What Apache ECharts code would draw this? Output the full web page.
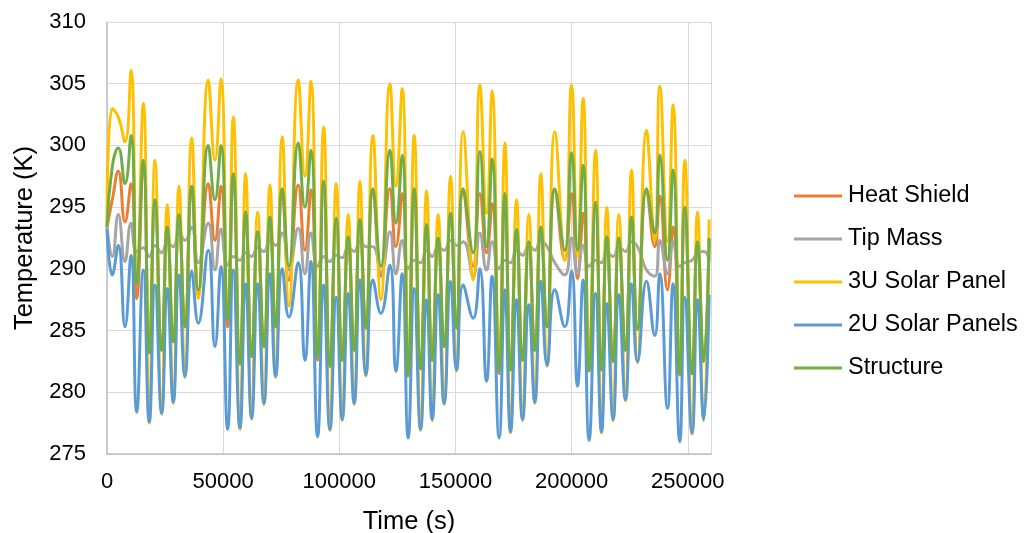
<!DOCTYPE html>
<html>
<head>
<meta charset="utf-8">
<script src="https://cdn.jsdelivr.net/npm/echarts@6/dist/echarts.min.js"></script>
<style>
html,body{margin:0;padding:0;background:#fff;}
#chart{width:1024px;height:533px;}
</style>
</head>
<body>
<div id="chart"></div>
<script>
// Time (s) of sampled extrema
const times = [0,
 2280, 4860, 7750, 10330, 12780, 15620, 18200, 20650, 23540, 25950, 28530, 30980, 33560, 36450,
 39290, 43590, 46470, 49050, 51940, 54350, 57230, 59680, 62260, 64850, 67560, 70140, 72590, 75430,
 78310, 82320, 85200, 87780, 90660, 93240, 95960, 98670, 101250, 103830, 106410, 108870, 111450, 114460,
 117900, 121770, 124360, 127070, 129650, 132230, 134990, 137570, 139980, 142560, 145140, 147900, 150480, 153320,
 157620, 160500, 163380, 165790, 168800, 171260, 173710, 176290, 178870, 181580, 184160, 186750, 189460, 192770,
 197070, 199960, 202540, 204950, 207530, 210290, 212870, 215150, 217860, 220310, 223190, 225780, 228360, 232230,
 235800, 237950, 241270, 243680, 246560, 248710, 251860, 254180, 256890,
 259200];

const heatShield = [293.4,
 295.6, 297.9, 293.8, 296.9, 287.6, 298.7, 283.2, 295.4, 283.4, 293.3, 284.1, 294.2, 285.3, 296.4,
 288.0, 296.9, 292.3, 296.7, 285.3, 297.6, 282.3, 294.5, 282.9, 292.9, 283.7, 294.1, 285.3, 296.3,
 289.1, 296.8, 291.5, 296.4, 282.6, 296.9, 282.1, 294.0, 282.6, 292.5, 283.4, 293.8, 285.2, 296.4,
 289.4, 296.5, 291.8, 296.1, 281.3, 296.4, 281.9, 293.4, 282.6, 292.3, 283.7, 294.4, 285.2, 296.4,
 290.2, 296.1, 291.3, 295.3, 281.5, 296.0, 281.8, 293.0, 282.6, 292.1, 283.4, 293.3, 285.3, 296.4,
 290.7, 296.1, 289.2, 294.5, 281.7, 295.3, 281.8, 292.5, 282.5, 292.3, 283.4, 294.1, 285.1, 296.4,
 291.8, 295.9, 288.3, 293.4, 281.4, 294.9, 281.5, 292.1, 282.5,
 292.3];

const tipMass = [293.4,
 291.0, 294.4, 290.6, 293.7, 291.4, 291.7, 291.0, 291.9, 291.3, 292.1, 291.8, 292.9, 292.3, 293.4,
 290.5, 293.7, 289.9, 293.2, 290.3, 291.0, 290.7, 291.3, 291.0, 291.7, 291.4, 292.3, 291.9, 292.9,
 289.9, 293.3, 289.6, 292.9, 290.2, 291.0, 290.6, 291.1, 290.9, 291.8, 291.4, 292.2, 291.8, 291.8,
 289.6, 293.0, 289.6, 292.3, 290.0, 290.7, 290.5, 291.5, 291.0, 291.8, 291.5, 292.3, 291.9, 292.2,
 289.4, 292.9, 289.9, 292.2, 290.0, 290.7, 290.5, 291.5, 291.1, 291.9, 291.5, 292.3, 291.8, 290.5,
 289.5, 292.5, 289.6, 291.9, 290.2, 290.7, 290.5, 291.3, 291.0, 291.8, 291.4, 292.2, 291.8, 289.9,
 289.4, 292.3, 289.6, 292.2, 290.2, 290.5, 290.7, 291.3, 291.4,
 290.7];

const solar3U = [293.4,
 303.0, 302.3, 300.3, 306.1, 288.8, 303.4, 277.5, 298.8, 278.2, 295.2, 279.1, 296.7, 281.2, 300.6,
 287.6, 305.3, 298.8, 305.4, 285.9, 302.3, 277.0, 297.7, 277.8, 294.6, 279.0, 296.8, 281.2, 300.7,
 287.0, 305.3, 297.5, 305.2, 282.9, 301.5, 276.9, 296.9, 277.7, 294.4, 279.0, 297.1, 281.3, 300.8,
 287.5, 305.0, 296.7, 304.6, 281.4, 300.8, 276.9, 296.3, 277.7, 294.4, 279.0, 297.5, 281.7, 301.1,
 289.1, 304.9, 294.5, 304.4, 281.7, 300.2, 276.7, 295.6, 277.7, 294.4, 279.1, 297.7, 282.1, 301.1,
 290.7, 304.9, 291.0, 303.8, 281.8, 299.6, 276.7, 295.0, 277.7, 294.4, 279.3, 298.0, 282.4, 301.2,
 292.3, 304.8, 292.2, 303.3, 281.5, 298.8, 276.6, 294.6, 277.7,
 294.0];

const solar2U = [293.2,
 289.5, 291.9, 285.3, 291.1, 278.4, 289.9, 277.6, 288.7, 278.3, 288.4, 279.2, 289.5, 281.3, 289.8,
 285.6, 291.5, 283.7, 290.2, 277.0, 289.9, 277.1, 288.8, 277.9, 288.8, 279.1, 289.6, 281.3, 290.0,
 286.1, 290.5, 282.6, 290.6, 276.4, 288.7, 277.0, 287.7, 277.8, 288.0, 279.1, 289.1, 281.4, 289.1,
 286.4, 290.3, 281.7, 289.6, 276.3, 288.4, 277.0, 287.5, 277.8, 287.9, 279.1, 289.0, 281.8, 288.7,
 286.0, 290.0, 280.9, 289.4, 276.3, 288.3, 276.8, 287.5, 277.8, 287.1, 279.2, 289.0, 282.2, 288.3,
 285.3, 289.8, 280.5, 289.1, 276.1, 288.0, 276.8, 287.2, 277.8, 287.9, 279.4, 288.8, 282.5, 289.0,
 284.6, 289.6, 278.7, 288.8, 276.0, 287.7, 276.7, 287.5, 277.8,
 287.9];

const structure = [293.4,
 298.3, 299.8, 296.9, 300.8, 288.8, 298.8, 283.2, 295.6, 283.4, 293.4, 284.1, 294.4, 285.3, 296.7,
 288.3, 300.0, 295.6, 300.0, 285.9, 297.7, 282.3, 294.6, 282.9, 293.0, 283.7, 294.2, 285.3, 296.5,
 290.2, 300.2, 295.0, 299.6, 282.9, 297.1, 282.1, 294.1, 282.6, 292.6, 283.4, 294.0, 285.2, 296.5,
 290.2, 299.6, 293.7, 299.2, 281.4, 296.5, 281.9, 293.6, 282.6, 292.5, 283.7, 294.5, 285.2, 296.5,
 291.3, 299.5, 291.8, 298.9, 281.7, 296.1, 281.8, 293.2, 282.6, 292.2, 283.4, 293.4, 285.3, 296.5,
 291.5, 299.4, 291.5, 298.4, 281.8, 295.4, 281.8, 292.6, 282.5, 292.5, 283.4, 294.2, 285.1, 296.5,
 292.9, 299.2, 290.7, 298.0, 281.5, 295.0, 281.5, 292.2, 282.5,
 292.5];

const seriesNames = ['Heat Shield', 'Tip Mass', '3U Solar Panel', '2U Solar Panels', 'Structure'];
const seriesValues = [heatShield, tipMass, solar3U, solar2U, structure];
const seriesColors = ['#ED7D31', '#A5A5A5', '#FFC000', '#5B9BD5', '#70AD47'];

const FONT = 'Liberation Sans, Arial, sans-serif';
const chart = echarts.init(document.getElementById('chart'), null, {renderer: 'canvas'});
chart.setOption({
  animation: false,
  backgroundColor: '#fff',
  grid: {left: 107, top: 22, right: 313, bottom: 79, containLabel: false, outerBoundsMode: 'none'},
  legend: {
    orient: 'vertical', left: 789, top: 179, itemGap: 19,
    itemWidth: 48, itemHeight: 3, icon: 'rect',
    textStyle: {fontFamily: FONT, fontSize: 23.5, color: '#000', lineHeight: 24, padding: [0, 0, 0, 1]},
    data: seriesNames
  },
  xAxis: {
    type: 'value', min: 0, max: 260000, interval: 50000,
    name: 'Time (s)', nameLocation: 'middle', nameGap: 55,
    nameTextStyle: {fontFamily: FONT, fontSize: 25.5, color: '#000'},
    axisLine: {show: true, lineStyle: {color: '#BFBFBF', width: 1.5}},
    axisTick: {show: false},
    axisLabel: {fontFamily: FONT, fontSize: 22, color: '#000', margin: 17, showMaxLabel: false,
      formatter: function (v) { return String(v); }},
    splitLine: {show: true, lineStyle: {color: '#D9D9D9', width: 1}}
  },
  yAxis: {
    type: 'value', min: 275, max: 310, interval: 5,
    name: 'Temperature (K)', nameLocation: 'middle', nameGap: 67, nameRotate: 90,
    nameTextStyle: {fontFamily: FONT, fontSize: 25.5, color: '#000'},
    axisLine: {show: true, lineStyle: {color: '#BFBFBF', width: 1.5}},
    axisTick: {show: false},
    axisLabel: {fontFamily: FONT, fontSize: 22, color: '#000', margin: 21},
    splitLine: {show: true, lineStyle: {color: '#D9D9D9', width: 1}}
  },
  series: seriesNames.map((n, i) => ({
    name: n, type: 'line', smooth: true, showSymbol: false, symbol: 'none',
    data: times.map((t, j) => [t, seriesValues[i][j]]),
    lineStyle: {width: 3, color: seriesColors[i]},
    itemStyle: {color: seriesColors[i]}
  }))
});
</script>
</body>
</html>
